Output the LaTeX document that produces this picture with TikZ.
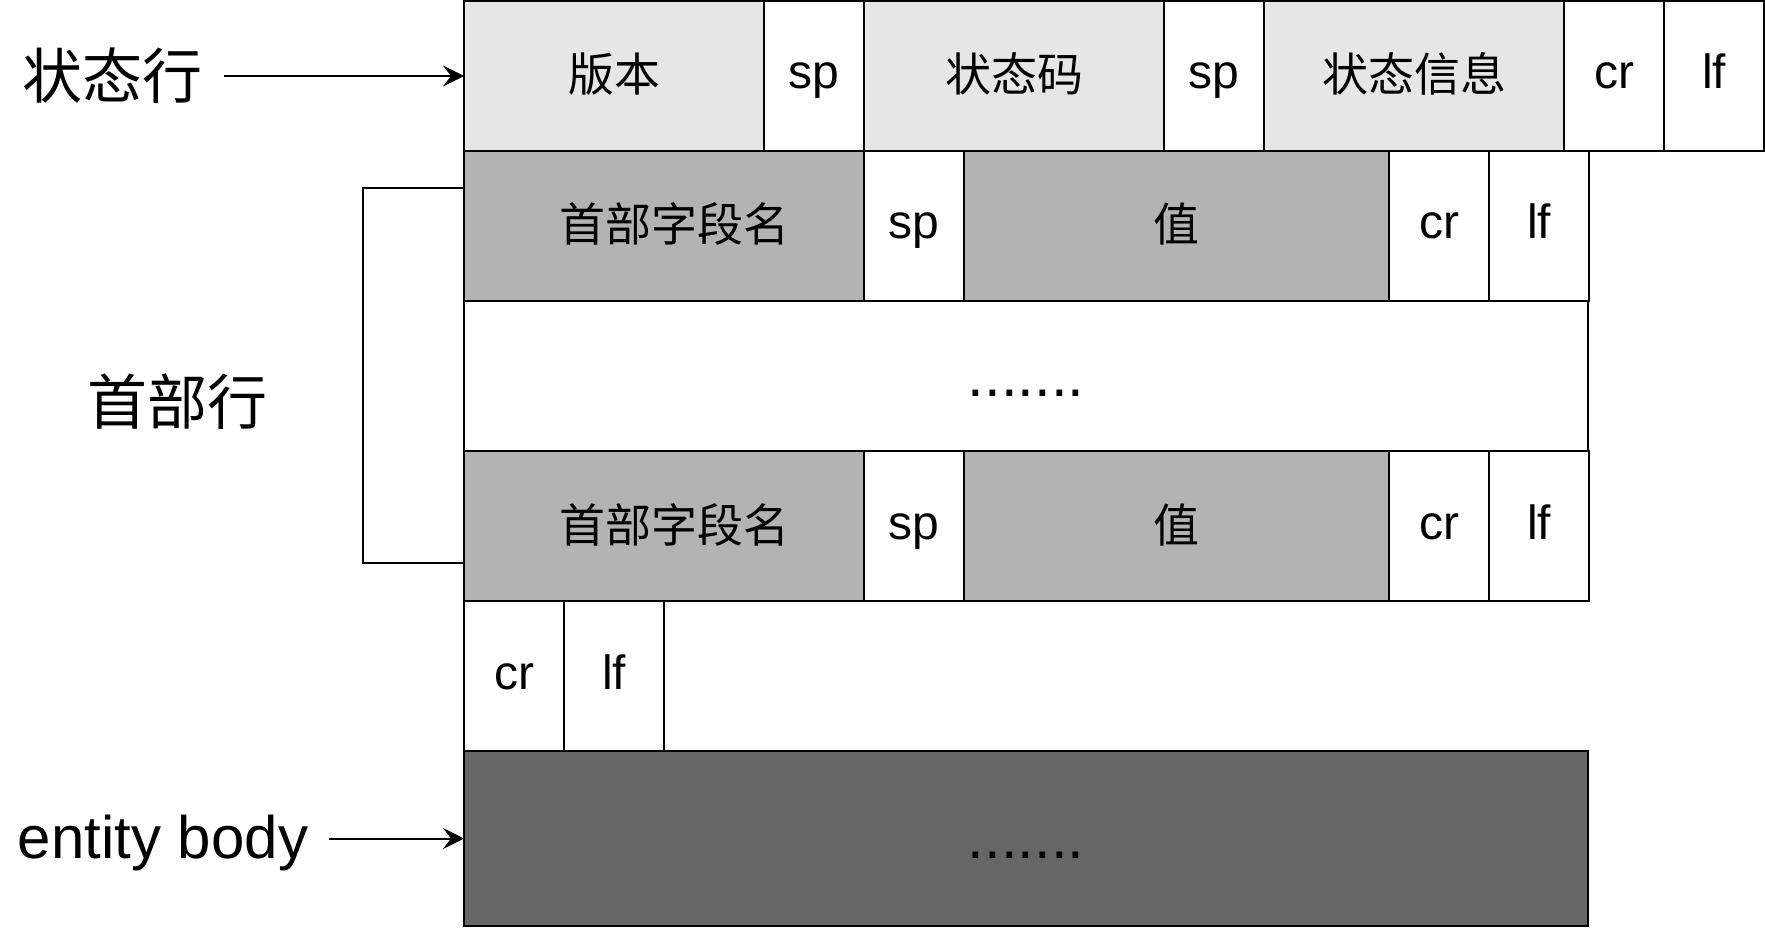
\documentclass[tikz,border=0pt]{standalone}
\usepackage{fontspec}
\setmainfont{Liberation Sans}
\newfontfamily\cjk{Noto Sans CJK SC}
\usetikzlibrary{arrows.meta}
\usetikzlibrary{calc,positioning}
\definecolor{statusgray}{HTML}{E6E6E6}
\definecolor{headgray}{HTML}{B3B3B3}
\definecolor{bodygray}{HTML}{666666}

\begin{document}
\begin{tikzpicture}[x=1pt,y=-1pt,node distance=0pt,line width=2pt,
  cell/.style={draw,inner sep=0pt,outer sep=0pt,minimum width=100pt,minimum height=150pt,
    font=\fontsize{48}{58}\selectfont,text height=36pt,text depth=10pt},
  zh/.style={font=\cjk\fontsize{46}{56}\selectfont,text height=40pt,text depth=8pt},
  wide/.style={minimum width=300pt},
  status/.style={cell,zh,fill=statusgray},
  head/.style={cell,zh,fill=headgray,minimum width=400pt},
  val/.style={cell,zh,fill=headgray,minimum width=425pt},
  dots/.style={cell,minimum width=1124pt,font=\fontsize{60}{72}\selectfont,text height=50pt,text depth=10pt},
  tag/.style={inner xsep=20pt,font=\fontsize{60}{72}\selectfont},
  >={Stealth[length=21pt,width=21pt,inset=8pt]}]
  \useasboundingbox (0,0) rectangle (1765,928);

  % status line
  \node[status,wide,anchor=north west] (ver) at (464,1) {版本};
  \node[cell,right=of ver] (sp1) {sp};
  \node[status,wide,right=of sp1] (code) {状态码};
  \node[cell,right=of code] (sp2) {sp};
  \node[status,wide,right=of sp2] (msg) {状态信息};
  \node[cell,right=of msg] (cr1) {cr};
  \node[cell,right=of cr1] (lf1) {lf};

  % header lines
  \node[head,anchor=north west] (name1) at (ver.south west) {\hspace*{20pt}首部字段名};
  \node[cell,right=of name1] (sp3) {sp};
  \node[val,right=of sp3] (val1) {值};
  \node[cell,right=of val1] (cr2) {cr};
  \node[cell,right=of cr2] (lf2) {lf};
  \node[dots,anchor=north west] (more) at (name1.south west) {.......};
  \node[head,anchor=north west] (name2) at (more.south west) {\hspace*{20pt}首部字段名};
  \node[cell,right=of name2] (sp4) {sp};
  \node[val,right=of sp4] (val2) {值};
  \node[cell,right=of val2] (cr3) {cr};
  \node[cell,right=of cr3] (lf3) {lf};

  % empty line and body
  \node[cell,anchor=north west] (cr4) at (name2.south west) {cr};
  \node[cell,right=of cr4] (lf4) {lf};
  \node[dots,fill=bodygray,minimum height=175pt,anchor=north west] (body) at (cr4.south west) {.......};

  % labels
  \node[tag] (statusl) at (113,76) {\cjk 状态行};
  \node[tag] (headl) at (177,402) {\cjk 首部行};
  \node[tag] (bodyl) at (163,843) {entity body};

  \draw[->] (statusl.east) -- (ver.west);
  \draw[->] (bodyl.east |- body.west) -- (body.west);
  \draw (name1.west |- 0,188) -- (363,188) -- (363,563) -- (name2.west |- 0,563);
\end{tikzpicture}
\end{document}
